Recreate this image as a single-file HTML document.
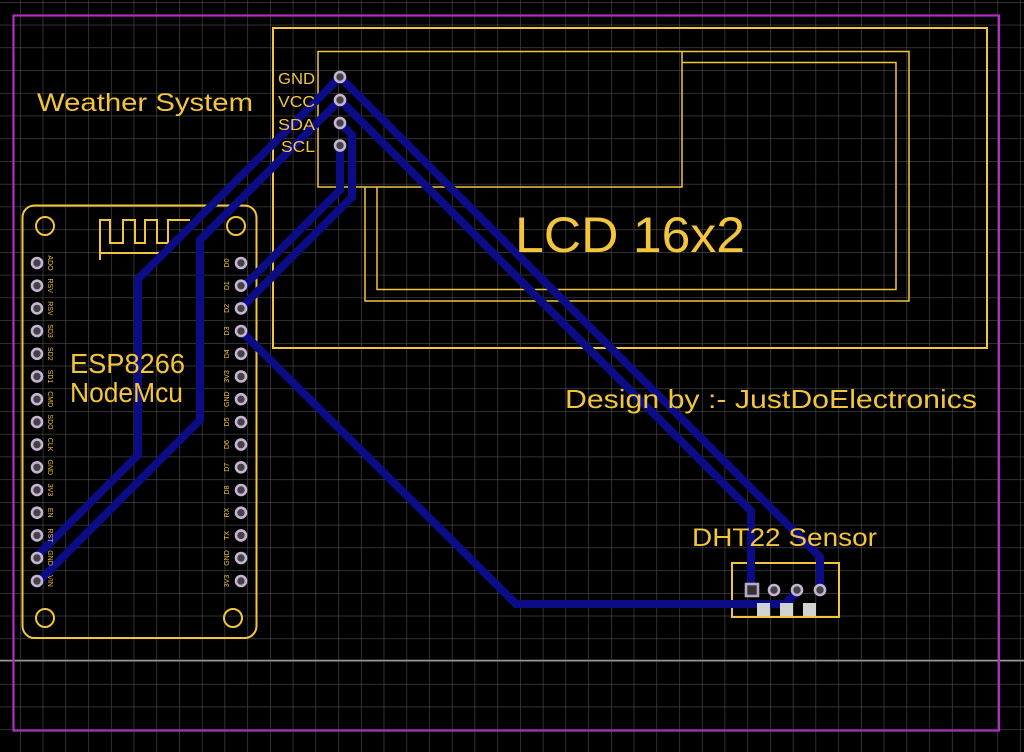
<!DOCTYPE html>
<html><head><meta charset="utf-8"><style>
html,body{margin:0;padding:0;background:#000;}
svg{display:block;}
text{font-family:"Liberation Sans",sans-serif;fill:#f2c53d;}
.pl{font-size:7px;}
</style></head><body>
<svg width="1024" height="752" viewBox="0 0 1024 752" xmlns="http://www.w3.org/2000/svg">
<defs>
<pattern id="g" x="20" y="2" width="22.73" height="22.73" patternUnits="userSpaceOnUse">
<path d="M0 0V22.73M0 0H22.73" stroke="#4f4f4f" stroke-width="1.2" fill="none"/>
</pattern>
</defs>
<rect width="1024" height="752" fill="#000"/>
<rect width="1024" height="752" fill="url(#g)"/>
<line x1="0" y1="660.5" x2="1024" y2="660.5" stroke="#9a9a9a" stroke-width="1.5"/>
<rect x="13.5" y="15.5" width="985.5" height="715" fill="none" stroke="#b02ec0" stroke-width="2.2"/>

<!-- LCD -->
<g fill="none" stroke="#f2c53d">
<rect x="273" y="28" width="714" height="320" stroke-width="2"/>
<rect x="318" y="51.5" width="364" height="135.5" stroke-width="1.5"/>
<polyline points="365,187 365,301 909,301 909,51.5 682,51.5" stroke-width="1.5"/>
<polyline points="377,187 377,289.5 896,289.5 896,62.5 682,62.5" stroke-width="1.5"/>
</g>

<!-- ESP module -->
<g fill="none" stroke="#f2c53d" stroke-width="2">
<rect x="22.5" y="205.5" width="234" height="432.5" rx="12"/>
<circle cx="45" cy="226" r="9"/><circle cx="236" cy="226" r="9"/>
<circle cx="45" cy="618" r="9"/><circle cx="233" cy="618" r="9"/>
<polyline points="100,260 100,220 110,220 110,243 123,243 123,220 135,220 135,243 145,243 145,220 157,220 157,243 168,243 168,220 190,220"/>
<line x1="100" y1="253" x2="168" y2="253"/>
</g>

<!-- DHT -->
<rect x="732" y="563" width="107" height="54" fill="none" stroke="#f2c53d" stroke-width="2"/>

<!-- traces -->
<g fill="none" stroke="#0c0c86" stroke-width="8" stroke-linejoin="miter">
<polyline points="340,77 138,279 138,455 37,556"/>
<polyline points="340,100 200,240 200,420 37,583"/>
<polyline points="340,77 820,557 820,590"/>
<polyline points="340,100 751,511 751,590"/>
<polyline points="340,123 352,135 352,197 241,308"/>
<polyline points="340,145 340,190 243,287"/>
<polyline points="241,331 516,604 785,604 797,592"/>
</g>
<g fill="#d2d2d2">
<rect x="757" y="603" width="13" height="13"/>
<rect x="780" y="603" width="13" height="13"/>
<rect x="803" y="603" width="13" height="13"/>
</g>

<!-- pads -->
<g fill="#444" stroke="#c7b3d3" stroke-width="2.6">
<circle cx="340" cy="77" r="5"/><circle cx="340" cy="100" r="5"/>
<circle cx="340" cy="123" r="5"/><circle cx="340" cy="145.5" r="5"/>
<rect x="746" y="584" width="12" height="12" fill="#333" stroke="#b8a8c4"/>
<circle cx="774" cy="590" r="5"/><circle cx="797" cy="590" r="5"/><circle cx="820" cy="590" r="5"/>
</g>
<g fill="#444" stroke="#c7b3d3" stroke-width="2.6">
<circle cx="37" cy="263" r="5"/><circle cx="37" cy="285.7" r="5"/><circle cx="37" cy="308.4" r="5"/><circle cx="37" cy="331" r="5"/><circle cx="37" cy="353.8" r="5"/><circle cx="37" cy="376.5" r="5"/><circle cx="37" cy="399.2" r="5"/><circle cx="37" cy="422" r="5"/><circle cx="37" cy="444.6" r="5"/><circle cx="37" cy="467.3" r="5"/><circle cx="37" cy="490" r="5"/><circle cx="37" cy="512.7" r="5"/><circle cx="37" cy="535.4" r="5"/><circle cx="37" cy="558" r="5"/><circle cx="37" cy="581" r="5"/>
<circle cx="241" cy="263" r="5"/><circle cx="241" cy="285.7" r="5"/><circle cx="241" cy="308.4" r="5"/><circle cx="241" cy="331" r="5"/><circle cx="241" cy="353.8" r="5"/><circle cx="241" cy="376.5" r="5"/><circle cx="241" cy="399.2" r="5"/><circle cx="241" cy="422" r="5"/><circle cx="241" cy="444.6" r="5"/><circle cx="241" cy="467.3" r="5"/><circle cx="241" cy="490" r="5"/><circle cx="241" cy="512.7" r="5"/><circle cx="241" cy="535.4" r="5"/><circle cx="241" cy="558" r="5"/><circle cx="241" cy="581" r="5"/>
</g>

<!-- text on top -->
<text x="515" y="252" font-size="50" textLength="230" lengthAdjust="spacingAndGlyphs">LCD 16x2</text>
<text x="278" y="84" font-size="16" textLength="37" lengthAdjust="spacingAndGlyphs">GND</text>
<text x="278" y="107" font-size="16" textLength="37" lengthAdjust="spacingAndGlyphs">VCC</text>
<text x="278" y="130" font-size="16" textLength="37" lengthAdjust="spacingAndGlyphs">SDA</text>
<text x="281" y="152" font-size="16" textLength="34" lengthAdjust="spacingAndGlyphs">SCL</text>
<text x="37" y="111" font-size="25" textLength="216" lengthAdjust="spacingAndGlyphs">Weather System</text>
<text x="565" y="408" font-size="26" textLength="412" lengthAdjust="spacingAndGlyphs">Design by :- JustDoElectronics</text>
<text x="692" y="546" font-size="25" textLength="185" lengthAdjust="spacingAndGlyphs">DHT22 Sensor</text>
<text x="70" y="373" font-size="28" textLength="115" lengthAdjust="spacingAndGlyphs">ESP8266</text>
<text x="70" y="402" font-size="28" textLength="113" lengthAdjust="spacingAndGlyphs">NodeMcu</text>

<g class="pl" text-anchor="middle">
<text transform="translate(48,263) rotate(90)">ADO</text>
<text transform="translate(48,285.7) rotate(90)">RSV</text>
<text transform="translate(48,308.4) rotate(90)">RSV</text>
<text transform="translate(48,331) rotate(90)">SD3</text>
<text transform="translate(48,353.8) rotate(90)">SD2</text>
<text transform="translate(48,376.5) rotate(90)">SD1</text>
<text transform="translate(48,399.2) rotate(90)">CMD</text>
<text transform="translate(48,422) rotate(90)">SDO</text>
<text transform="translate(48,444.6) rotate(90)">CLK</text>
<text transform="translate(48,467.3) rotate(90)">GND</text>
<text transform="translate(48,490) rotate(90)">3V3</text>
<text transform="translate(48,512.7) rotate(90)">EN</text>
<text transform="translate(48,535.4) rotate(90)">RST</text>
<text transform="translate(48,558) rotate(90)">GND</text>
<text transform="translate(48,581) rotate(90)">VIN</text>
<text transform="translate(229,263) rotate(-90)">D0</text>
<text transform="translate(229,285.7) rotate(-90)">D1</text>
<text transform="translate(229,308.4) rotate(-90)">D2</text>
<text transform="translate(229,331) rotate(-90)">D3</text>
<text transform="translate(229,353.8) rotate(-90)">D4</text>
<text transform="translate(229,376.5) rotate(-90)">3V3</text>
<text transform="translate(229,399.2) rotate(-90)">GND</text>
<text transform="translate(229,422) rotate(-90)">D5</text>
<text transform="translate(229,444.6) rotate(-90)">D6</text>
<text transform="translate(229,467.3) rotate(-90)">D7</text>
<text transform="translate(229,490) rotate(-90)">D8</text>
<text transform="translate(229,512.7) rotate(-90)">RX</text>
<text transform="translate(229,535.4) rotate(-90)">TX</text>
<text transform="translate(229,558) rotate(-90)">GND</text>
<text transform="translate(229,581) rotate(-90)">3V3</text>
</g>
</svg>
</body></html>
